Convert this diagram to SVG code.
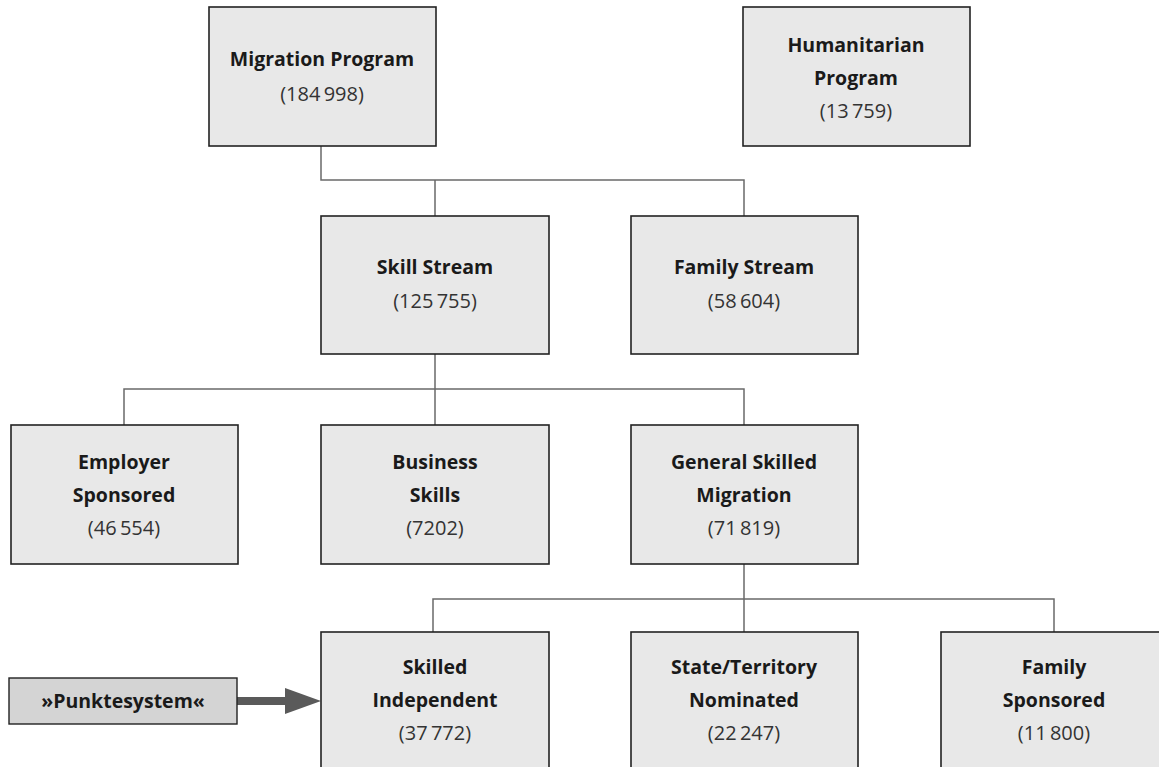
<svg xmlns="http://www.w3.org/2000/svg" width="1159" height="767" viewBox="0 0 1159 767">
<style>
.box{fill:#e8e8e8;stroke:#222;stroke-width:1.6}
.pk{fill:#d4d4d4;stroke:#222;stroke-width:1.4}
.t{font-family:"Open Sans","Noto Sans",sans-serif;font-weight:bold;font-size:19.5px;fill:#1a1a1a;text-anchor:middle}
.n{font-family:"Open Sans","Noto Sans",sans-serif;font-size:20px;fill:#333;text-anchor:middle}
.c{fill:none;stroke:#6a6a6a;stroke-width:1.5}
</style>
<rect width="1159" height="767" fill="#fff"/>
<g id="connectors">
<path class="c" d="M321 146V180H744V216M435 180V216"/>
<path class="c" d="M435 354V389M124 425V389H744V425M435 389V425"/>
<path class="c" d="M744 564V599M433 632V599H1054V632M744 599V632"/>
<rect x="237" y="697" width="50" height="8" fill="#5a5a5a"/>
<polygon points="285,688 321,701 285,714" fill="#5a5a5a"/>
</g>
<g id="migration"><rect class="box" x="209" y="7" width="227" height="139"/><text class="t" x="322" y="66">Migration Program</text><text class="n" x="322" y="101">(184&#8201;998)</text></g>
<g id="humanitarian"><rect class="box" x="743" y="7" width="227" height="139"/><text class="t" x="856" y="52">Humanitarian</text><text class="t" x="856" y="85">Program</text><text class="n" x="856" y="118">(13&#8201;759)</text></g>
<g id="skill"><rect class="box" x="321" y="216" width="228" height="138"/><text class="t" x="435" y="274">Skill Stream</text><text class="n" x="435" y="308">(125&#8201;755)</text></g>
<g id="family"><rect class="box" x="631" y="216" width="227" height="138"/><text class="t" x="744" y="274">Family Stream</text><text class="n" x="744" y="308">(58&#8201;604)</text></g>
<g id="employer"><rect class="box" x="11" y="425" width="227" height="139"/><text class="t" x="124" y="469">Employer</text><text class="t" x="124" y="502">Sponsored</text><text class="n" x="124" y="535">(46&#8201;554)</text></g>
<g id="business"><rect class="box" x="321" y="425" width="228" height="139"/><text class="t" x="435" y="469">Business</text><text class="t" x="435" y="502">Skills</text><text class="n" x="435" y="535">(7202)</text></g>
<g id="general"><rect class="box" x="631" y="425" width="227" height="139"/><text class="t" x="744" y="469">General Skilled</text><text class="t" x="744" y="502">Migration</text><text class="n" x="744" y="535">(71&#8201;819)</text></g>
<g id="independent"><rect class="box" x="321" y="632" width="228" height="150"/><text class="t" x="435" y="674">Skilled</text><text class="t" x="435" y="707">Independent</text><text class="n" x="435" y="740">(37&#8201;772)</text></g>
<g id="state"><rect class="box" x="631" y="632" width="227" height="150"/><text class="t" x="744" y="674">State/Territory</text><text class="t" x="744" y="707">Nominated</text><text class="n" x="744" y="740">(22&#8201;247)</text></g>
<g id="familysp"><rect class="box" x="941" y="632" width="227" height="150"/><text class="t" x="1054" y="674">Family</text><text class="t" x="1054" y="707">Sponsored</text><text class="n" x="1054" y="740">(11&#8201;800)</text></g>
<g id="punkte"><rect class="pk" x="9" y="678" width="228" height="46"/><text class="t" x="123" y="708">»Punktesystem«</text></g>
</svg>
